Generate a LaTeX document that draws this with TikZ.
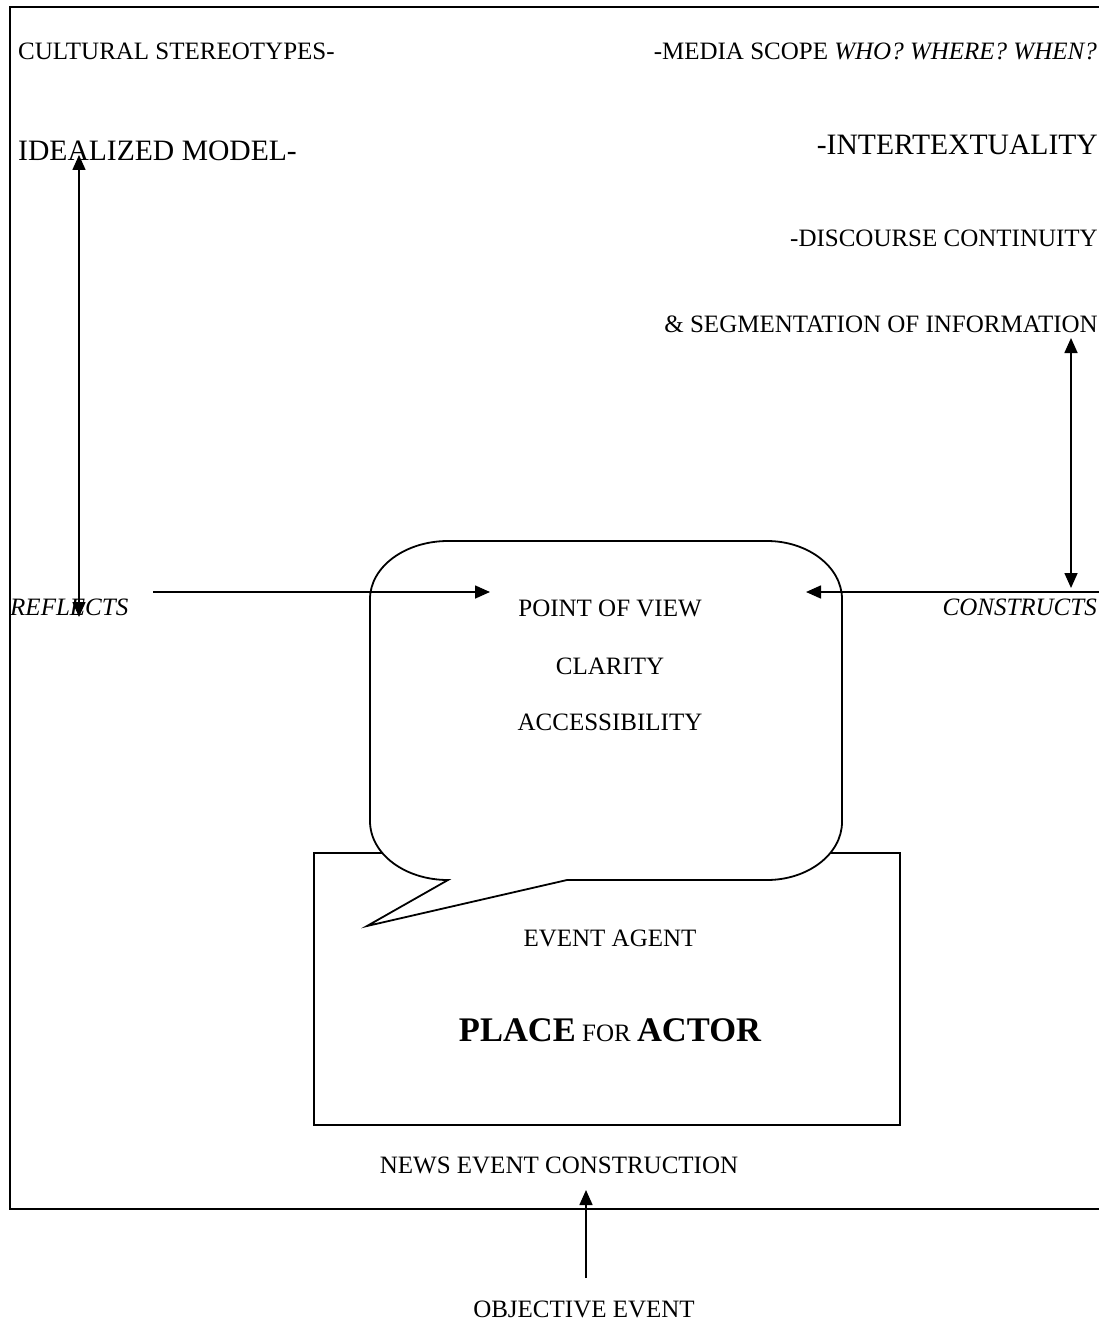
\documentclass[tikz,border=0pt]{standalone}
\usepackage{fontspec}
\setmainfont{Liberation Serif}
\usetikzlibrary{arrows.meta}
\tikzset{
  txt/.style={inner sep=0pt, font=\fontsize{25}{30}\selectfont},
  bigtxt/.style={inner sep=0pt, font=\fontsize{29.6}{35}\selectfont},
  tip/.tip={Triangle[length=15pt,width=13pt]},
  arr/.style={line width=1.6pt, -tip},
  darr/.style={line width=1.6pt, tip-tip},
  outline/.style={line width=1.8pt},
}
\begin{document}
\begin{tikzpicture}[x=1pt,y=-1pt]
\useasboundingbox (0,0) rectangle (1099,1321);
\clip (0,0) rectangle (1099,1321);
\fill[white] (0,0) rectangle (1099,1321);
% outer frame
\draw[outline] (1110,1209) -- (10,1209) -- (10,7);
\draw[line width=2.8pt] (9,7) -- (1110,7);
% event box
\node[draw, outline, minimum width=586pt, minimum height=272pt, inner sep=0pt] (agentbox) at (607,989) {};
% speech bubble
\draw[outline, fill=white] (448,880) -- (367,926) -- (567,880) -- (767,880)
  .. controls (808,880) and (842,854) .. (842,822) -- (842,599)
  .. controls (842,567) and (808,541) .. (767,541) -- (448,541)
  .. controls (405,541) and (370,567) .. (370,599) -- (370,821)
  .. controls (370,854) and (405,880) .. (448,880) -- cycle;
% texts
\node[txt, anchor=base west] (cult) at (18,60) {CULTURAL STEREOTYPES-};
\node[txt, anchor=base east] (media) at (1097,60) {-MEDIA SCOPE \textit{WHO? WHERE? WHEN?}};
\node[bigtxt, anchor=base west] (ideal) at (18,161) {IDEALIZED MODEL-};
\node[bigtxt, anchor=base east] (inter) at (1098,155) {-INTERTEXTUALITY};
\node[txt, anchor=base east] (disc) at (1098,247) {-DISCOURSE CONTINUITY};
\node[txt, anchor=base east] (segm) at (1098,332) {\& SEGMENTATION OF INFORMATION};
\node[txt, anchor=base west] (refl) at (10,615) {\textit{REFLECTS}};
\node[txt, anchor=base east] (constr) at (1097,615) {\textit{CONSTRUCTS}};
\node[txt, anchor=base] (pov) at (610,616) {POINT OF VIEW};
\node[txt, anchor=base] (clar) at (610,674) {CLARITY};
\node[txt, anchor=base] (access) at (610,730) {ACCESSIBILITY};
\node[txt, anchor=base] (agent) at (610,946) {EVENT AGENT};
\node[txt, anchor=base] (place) at (610,1041) {{\bfseries\fontsize{34.5}{40}\selectfont PLACE} FOR {\bfseries\fontsize{34.5}{40}\selectfont ACTOR}};
\node[txt, anchor=base] (news) at (559,1173) {NEWS EVENT CONSTRUCTION};
\node[txt, anchor=base] (obj) at (584,1317) {OBJECTIVE EVENT};
% connector end points
\coordinate (lt) at (79,155);
\coordinate (lb) at (79,617);
\coordinate (ls) at (153,592);
\coordinate (le) at (490,592);
\coordinate (rt) at (1071,338);
\coordinate (rb) at (1071,588);
\coordinate (rs) at (1105,592);
\coordinate (re) at (806,592);
\coordinate (bs) at (586,1278);
\coordinate (be) at (586,1190);
% connectors
\draw[darr] (lt) -- (lb);
\draw[arr] (ls) -- (le);
\draw[darr] (rt) -- (rb);
\draw[arr] (rs) -- (re);
\draw[arr] (bs) -- (be);
\end{tikzpicture}
\end{document}
